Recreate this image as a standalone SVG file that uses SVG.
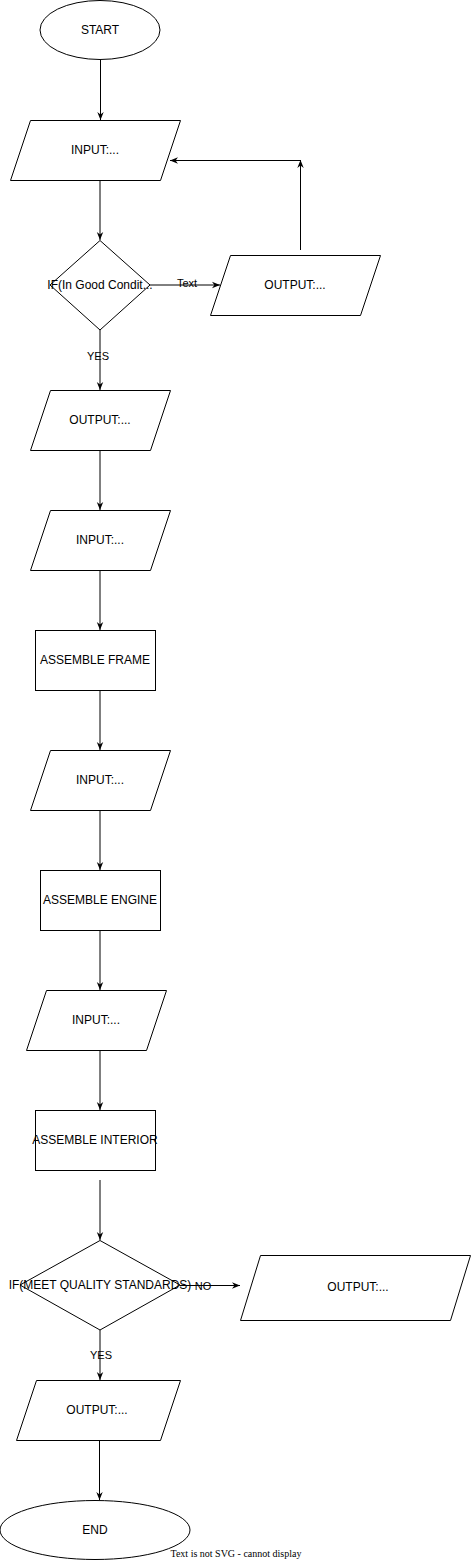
<svg xmlns="http://www.w3.org/2000/svg" width="471" height="1561" viewBox="0 0 471 1561">
<style>
.n{fill:#fff;stroke:#000;stroke-width:1}
.t{font-family:"Liberation Sans",Arial,sans-serif;font-size:12px;fill:#000;text-anchor:middle}
.l{font-family:"Liberation Sans",Arial,sans-serif;font-size:11px;fill:#000;text-anchor:middle}
.c{fill:none;stroke:#000;stroke-width:1;marker-end:url(#arr)}
</style>
<defs>
<marker id="arr" viewBox="0 0 10 10" refX="10" refY="5" markerWidth="8" markerHeight="8" markerUnits="userSpaceOnUse" orient="auto">
<path d="M0,1 L10,5 L0,9 L3,5 z" fill="#000"/>
</marker>
</defs>
<rect width="471" height="1561" fill="#fff"/>
<g id="connectors">
<path class="c" d="M100.5,60 V120"/>
<path class="c" d="M100,180 V240"/>
<path class="c" d="M150,285 H220"/>
<path class="c" d="M300.5,250 V160"/>
<path class="c" d="M300,160.5 H170"/>
<path class="c" d="M100,330 V390"/>
<path class="c" d="M100,450 V510"/>
<path class="c" d="M100,570 V630"/>
<path class="c" d="M100,690 V750"/>
<path class="c" d="M100,810 V870"/>
<path class="c" d="M100,930 V990"/>
<path class="c" d="M100,1050 V1110"/>
<path class="c" d="M100,1180 V1240"/>
<path class="c" d="M180,1285.5 H240"/>
<path class="c" d="M100,1330 V1380"/>
<path class="c" d="M99.5,1440 V1500"/>
<text class="l" x="187" y="287">Text</text>
<text class="l" x="98" y="360">YES</text>
<text class="l" x="203" y="1290">NO</text>
<text class="l" x="101" y="1359">YES</text>
</g>
<g id="start"><ellipse class="n" cx="100" cy="30" rx="60" ry="29.5"/><text class="t" x="100" y="34">START</text></g>
<g id="input1"><polygon class="n" points="30.5,120.5 180.5,120.5 160.5,180.5 10.5,180.5"/><text class="t" x="95" y="154">INPUT:...</text></g>
<g id="cond1"><polygon class="n" points="100,240.5 150,285 100,330 50,285"/><text class="t" x="100" y="289">IF(In Good Condit...</text></g>
<g id="output1"><polygon class="n" points="230.5,255.5 380.5,255.5 360.5,315.5 210.5,315.5"/><text class="t" x="295" y="289">OUTPUT:...</text></g>
<g id="output2"><polygon class="n" points="50.5,390.5 170.5,390.5 150.5,450.5 30.5,450.5"/><text class="t" x="100" y="424">OUTPUT:...</text></g>
<g id="input2"><polygon class="n" points="50.5,510.5 170.5,510.5 150.5,570.5 30.5,570.5"/><text class="t" x="100" y="544">INPUT:...</text></g>
<g id="frame"><rect class="n" x="35.5" y="630.5" width="120" height="60"/><text class="t" x="95" y="664">ASSEMBLE FRAME</text></g>
<g id="input3"><polygon class="n" points="50.5,750.5 170.5,750.5 150.5,810.5 30.5,810.5"/><text class="t" x="100" y="784">INPUT:...</text></g>
<g id="engine"><rect class="n" x="40.5" y="870.5" width="120" height="60"/><text class="t" x="100" y="904">ASSEMBLE ENGINE</text></g>
<g id="input4"><polygon class="n" points="46.5,990.5 166.5,990.5 146.5,1050.5 26.5,1050.5"/><text class="t" x="96" y="1024">INPUT:...</text></g>
<g id="interior"><rect class="n" x="35.5" y="1110.5" width="120" height="60"/><text class="t" x="95" y="1144">ASSEMBLE INTERIOR</text></g>
<g id="cond2"><polygon class="n" points="100,1240.5 180,1285 100,1330 20,1285"/><text class="t" x="100" y="1289">IF(MEET QUALITY STANDARDS)</text></g>
<g id="output3"><polygon class="n" points="260.5,1255.5 470.5,1255.5 450.5,1320.5 240.5,1320.5"/><text class="t" x="358" y="1291">OUTPUT:...</text></g>
<g id="output4"><polygon class="n" points="36.5,1380.5 180.5,1380.5 160.5,1440.5 16.5,1440.5"/><text class="t" x="97" y="1414">OUTPUT:...</text></g>
<g id="end"><ellipse class="n" cx="95" cy="1530" rx="95" ry="29.5"/><text class="t" x="95" y="1534">END</text></g>
<text x="236" y="1557" style="font-family:'Liberation Serif','Times New Roman',serif;font-size:10px;text-anchor:middle;fill:#000">Text is not SVG - cannot display</text>
</svg>
